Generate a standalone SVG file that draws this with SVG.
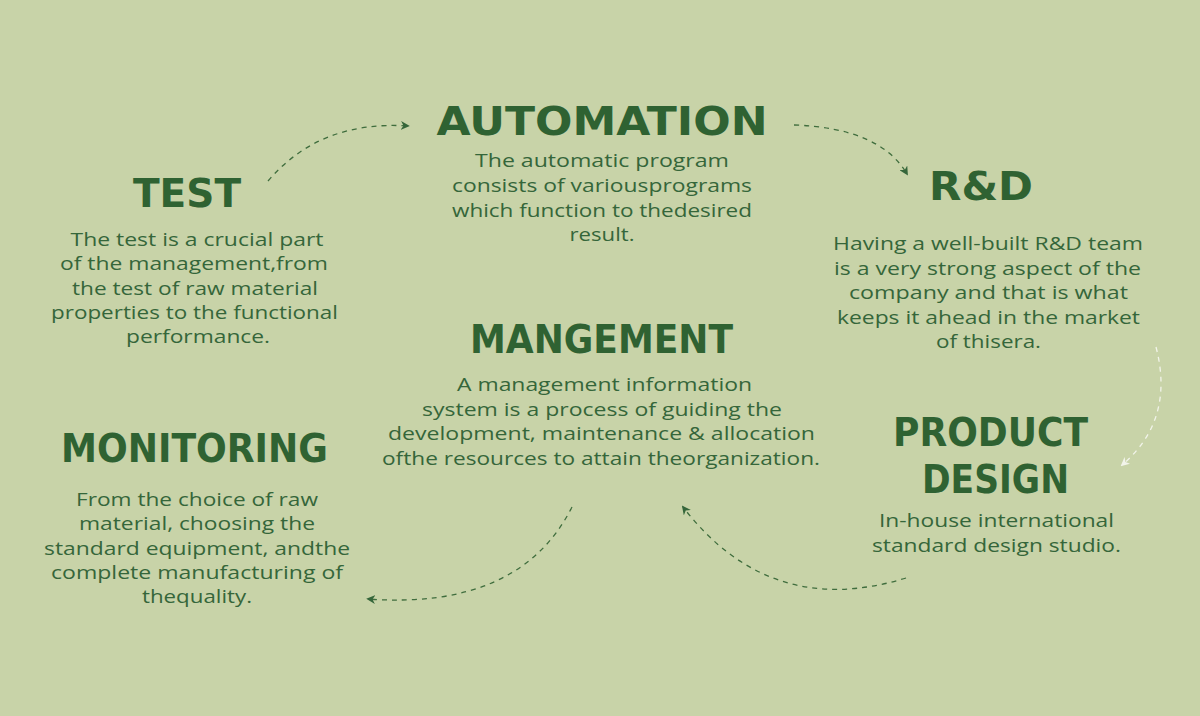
<svg xmlns="http://www.w3.org/2000/svg" width="1200" height="716" viewBox="0 0 1200 716">
<defs>
<style>
.t{font-family:"DejaVu Sans","Open Sans",sans-serif;font-weight:700;font-size:39px;fill:#2f6232;text-anchor:middle}
.b{font-family:"Open Sans","Noto Sans",sans-serif;font-size:18.5px;fill:#35663a;text-anchor:middle}
.c{fill:none;stroke:#3f6d3d;stroke-width:1.3;stroke-dasharray:5 5}
.w{fill:none;stroke:#f2f4ea;stroke-width:1.3;stroke-dasharray:5 5}
</style>
<marker id="ag" viewBox="0 0 10 10" refX="8" refY="5" markerWidth="9" markerHeight="9" markerUnits="userSpaceOnUse" orient="auto"><path d="M0,0 L10,5 L0,10 L3,5 Z" fill="#35663a"/></marker>
<marker id="aw" viewBox="0 0 10 10" refX="8" refY="5" markerWidth="9" markerHeight="9" markerUnits="userSpaceOnUse" orient="auto"><path d="M0,0 L10,5 L0,10 L3,5 Z" fill="#f2f4ea"/></marker>
</defs>
<rect width="1200" height="716" fill="#c8d3a8"/>
<g id="connectors">
<path class="c" d="M268,181 Q320,120 408,126" marker-end="url(#ag)"/>
<path class="c" d="M794,125 Q880,128 907,174" marker-end="url(#ag)"/>
<path class="w" d="M1156,347 Q1175,420 1122,465" marker-end="url(#aw)"/>
<path class="c" d="M906,578 Q770,620 683,507" marker-end="url(#ag)"/>
<path class="c" d="M572,507 Q520,610 368,599" marker-end="url(#ag)"/>
</g>
<g id="automation">
<text class="t" x="602" y="135" textLength="331" lengthAdjust="spacingAndGlyphs">AUTOMATION</text>
<text class="b" x="602" y="167" textLength="254" lengthAdjust="spacingAndGlyphs">The automatic program</text>
<text class="b" x="602" y="192" textLength="300" lengthAdjust="spacingAndGlyphs">consists of variousprograms</text>
<text class="b" x="602" y="217" textLength="300" lengthAdjust="spacingAndGlyphs">which function to thedesired</text>
<text class="b" x="602" y="241" textLength="65" lengthAdjust="spacingAndGlyphs">result.</text>
</g>
<g id="test">
<text class="t" x="187" y="207" textLength="108" lengthAdjust="spacingAndGlyphs">TEST</text>
<text class="b" x="197" y="246" textLength="253" lengthAdjust="spacingAndGlyphs">The test is a crucial part</text>
<text class="b" x="194" y="270" textLength="268" lengthAdjust="spacingAndGlyphs">of the management,from</text>
<text class="b" x="195" y="295" textLength="246" lengthAdjust="spacingAndGlyphs">the test of raw material</text>
<text class="b" x="194.5" y="319" textLength="287" lengthAdjust="spacingAndGlyphs">properties to the functional</text>
<text class="b" x="198" y="343" textLength="144" lengthAdjust="spacingAndGlyphs">performance.</text>
</g>
<g id="rnd">
<text class="t" x="981" y="200" textLength="104" lengthAdjust="spacingAndGlyphs">R&amp;D</text>
<text class="b" x="988" y="250" textLength="310" lengthAdjust="spacingAndGlyphs">Having a well-built R&amp;D team</text>
<text class="b" x="987.5" y="275" textLength="307" lengthAdjust="spacingAndGlyphs">is a very strong aspect of the</text>
<text class="b" x="988.5" y="299" textLength="279" lengthAdjust="spacingAndGlyphs">company and that is what</text>
<text class="b" x="988.5" y="324" textLength="303" lengthAdjust="spacingAndGlyphs">keeps it ahead in the market</text>
<text class="b" x="988.5" y="348" textLength="105" lengthAdjust="spacingAndGlyphs">of thisera.</text>
</g>
<g id="mangement">
<text class="t" x="601.5" y="353" textLength="263" lengthAdjust="spacingAndGlyphs">MANGEMENT</text>
<text class="b" x="604.5" y="391" textLength="295" lengthAdjust="spacingAndGlyphs">A management information</text>
<text class="b" x="602" y="416" textLength="360" lengthAdjust="spacingAndGlyphs">system is a process of guiding the</text>
<text class="b" x="601.5" y="440" textLength="427" lengthAdjust="spacingAndGlyphs">development, maintenance &amp; allocation</text>
<text class="b" x="601" y="465" textLength="438" lengthAdjust="spacingAndGlyphs">ofthe resources to attain theorganization.</text>
</g>
<g id="monitoring">
<text class="t" x="194.5" y="462" textLength="267" lengthAdjust="spacingAndGlyphs">MONITORING</text>
<text class="b" x="197" y="506" textLength="242" lengthAdjust="spacingAndGlyphs">From the choice of raw</text>
<text class="b" x="197" y="530" textLength="236" lengthAdjust="spacingAndGlyphs">material, choosing the</text>
<text class="b" x="197" y="555" textLength="306" lengthAdjust="spacingAndGlyphs">standard equipment, andthe</text>
<text class="b" x="197" y="579" textLength="292" lengthAdjust="spacingAndGlyphs">complete manufacturing of</text>
<text class="b" x="197" y="603" textLength="110" lengthAdjust="spacingAndGlyphs">thequality.</text>
</g>
<g id="product-design">
<text class="t" x="990.5" y="446" textLength="195" lengthAdjust="spacingAndGlyphs">PRODUCT</text>
<text class="t" x="995.5" y="493" textLength="147" lengthAdjust="spacingAndGlyphs">DESIGN</text>
<text class="b" x="996.5" y="527" textLength="235" lengthAdjust="spacingAndGlyphs">In-house international</text>
<text class="b" x="996.5" y="552" textLength="249" lengthAdjust="spacingAndGlyphs">standard design studio.</text>
</g>
</svg>
